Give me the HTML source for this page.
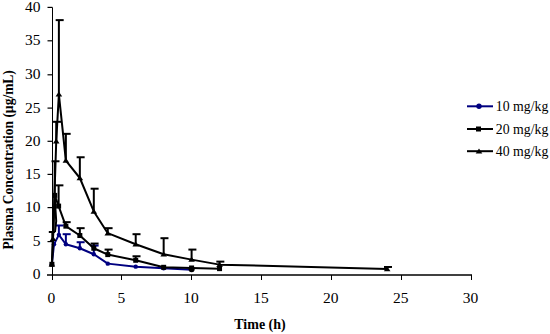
<!DOCTYPE html>
<html><head><meta charset="utf-8"><style>
html,body{margin:0;padding:0;background:#fff;}
svg{display:block;}
</style></head><body>
<svg width="550" height="334" viewBox="0 0 550 334">
<rect width="550" height="334" fill="#fff"/>
<g stroke="#000" stroke-width="1" fill="none">
<line x1="52.5" y1="7.5" x2="52.5" y2="275"/>
<line x1="47" y1="275" x2="472" y2="275" stroke-width="1.4"/>
<line x1="47.5" y1="241.60" x2="52.5" y2="241.60" stroke-width="1.2"/>
<line x1="47.5" y1="207.60" x2="52.5" y2="207.60" stroke-width="1.2"/>
<line x1="47.5" y1="174.40" x2="52.5" y2="174.40" stroke-width="1.2"/>
<line x1="47.5" y1="141.30" x2="52.5" y2="141.30" stroke-width="1.2"/>
<line x1="47.5" y1="108.10" x2="52.5" y2="108.10" stroke-width="1.2"/>
<line x1="47.5" y1="74.80" x2="52.5" y2="74.80" stroke-width="1.2"/>
<line x1="47.5" y1="40.80" x2="52.5" y2="40.80" stroke-width="1.2"/>
<line x1="47.5" y1="7.40" x2="52.5" y2="7.40" stroke-width="1.2"/>
<line x1="52.50" y1="275" x2="52.50" y2="280"/>
<line x1="121.50" y1="275" x2="121.50" y2="280"/>
<line x1="191.50" y1="275" x2="191.50" y2="280"/>
<line x1="261.50" y1="275" x2="261.50" y2="280"/>
<line x1="331.50" y1="275" x2="331.50" y2="280"/>
<line x1="401.50" y1="275" x2="401.50" y2="280"/>
<line x1="471.50" y1="275" x2="471.50" y2="280"/>
</g>
<g font-family="Liberation Serif" font-size="15.5" fill="#000">
<text x="40.6" y="279.40" text-anchor="end">0</text>
<text x="40.6" y="246.00" text-anchor="end">5</text>
<text x="40.6" y="212.00" text-anchor="end">10</text>
<text x="40.6" y="178.80" text-anchor="end">15</text>
<text x="40.6" y="145.70" text-anchor="end">20</text>
<text x="40.6" y="112.50" text-anchor="end">25</text>
<text x="40.6" y="79.20" text-anchor="end">30</text>
<text x="40.6" y="45.20" text-anchor="end">35</text>
<text x="40.6" y="11.80" text-anchor="end">40</text>
<text x="51.40" y="302.6" text-anchor="middle">0</text>
<text x="121.25" y="302.6" text-anchor="middle">5</text>
<text x="191.10" y="302.6" text-anchor="middle">10</text>
<text x="260.95" y="302.6" text-anchor="middle">15</text>
<text x="330.80" y="302.6" text-anchor="middle">20</text>
<text x="400.65" y="302.6" text-anchor="middle">25</text>
<text x="470.50" y="302.6" text-anchor="middle">30</text>
</g>
<text x="260" y="329" text-anchor="middle" font-family="Liberation Serif" font-weight="bold" font-size="14">Time (h)</text>
<text transform="translate(12.6,159.8) rotate(-90) scale(0.93,1)" text-anchor="middle" font-family="Liberation Serif" font-weight="bold" font-size="14.5">Plasma Concentration (µg/mL)</text>
<line x1="58.88" y1="234.86" x2="58.88" y2="225.49" stroke="#000080" stroke-width="2"/>
<line x1="55.68" y1="225.49" x2="63.68" y2="225.49" stroke="#000080" stroke-width="2"/>
<line x1="65.87" y1="244.23" x2="65.87" y2="234.19" stroke="#000080" stroke-width="2"/>
<line x1="62.67" y1="234.19" x2="70.67" y2="234.19" stroke="#000080" stroke-width="2"/>
<line x1="79.84" y1="248.24" x2="79.84" y2="242.22" stroke="#000080" stroke-width="2"/>
<line x1="76.64" y1="242.22" x2="84.64" y2="242.22" stroke="#000080" stroke-width="2"/>
<line x1="93.81" y1="254.26" x2="93.81" y2="245.56" stroke="#000080" stroke-width="2"/>
<line x1="90.61" y1="245.56" x2="98.61" y2="245.56" stroke="#000080" stroke-width="2"/>
<path d="M51.90,264.30 L54.00,244.23 L58.88,234.86 L65.87,244.23 L79.84,248.24 L93.81,254.26 L107.78,263.63 L135.72,266.64 L163.66,268.31 L191.60,269.65" stroke="#000080" stroke-width="2" fill="none" stroke-linejoin="round"/>
<circle cx="51.90" cy="264.30" r="2.2" fill="#000080"/>
<circle cx="54.00" cy="244.23" r="2.2" fill="#000080"/>
<circle cx="58.88" cy="234.86" r="2.2" fill="#000080"/>
<circle cx="65.87" cy="244.23" r="2.2" fill="#000080"/>
<circle cx="79.84" cy="248.24" r="2.2" fill="#000080"/>
<circle cx="93.81" cy="254.26" r="2.2" fill="#000080"/>
<circle cx="107.78" cy="263.63" r="2.2" fill="#000080"/>
<circle cx="135.72" cy="266.64" r="2.2" fill="#000080"/>
<circle cx="163.66" cy="268.31" r="2.2" fill="#000080"/>
<circle cx="191.60" cy="269.65" r="2.2" fill="#000080"/>
<line x1="54.69" y1="195.39" x2="54.69" y2="161.27" stroke="#000" stroke-width="2"/>
<line x1="51.49" y1="161.27" x2="59.49" y2="161.27" stroke="#000" stroke-width="2"/>
<line x1="58.61" y1="206.09" x2="58.61" y2="185.35" stroke="#000" stroke-width="2"/>
<line x1="55.41" y1="185.35" x2="63.41" y2="185.35" stroke="#000" stroke-width="2"/>
<line x1="65.87" y1="226.16" x2="65.87" y2="222.15" stroke="#000" stroke-width="2"/>
<line x1="62.67" y1="222.15" x2="70.67" y2="222.15" stroke="#000" stroke-width="2"/>
<line x1="79.84" y1="235.53" x2="79.84" y2="228.17" stroke="#000" stroke-width="2"/>
<line x1="76.64" y1="228.17" x2="84.64" y2="228.17" stroke="#000" stroke-width="2"/>
<line x1="93.81" y1="248.24" x2="93.81" y2="243.56" stroke="#000" stroke-width="2"/>
<line x1="90.61" y1="243.56" x2="98.61" y2="243.56" stroke="#000" stroke-width="2"/>
<line x1="107.78" y1="254.60" x2="107.78" y2="249.58" stroke="#000" stroke-width="2"/>
<line x1="104.58" y1="249.58" x2="112.58" y2="249.58" stroke="#000" stroke-width="2"/>
<line x1="135.72" y1="260.28" x2="135.72" y2="256.27" stroke="#000" stroke-width="2"/>
<line x1="132.52" y1="256.27" x2="140.52" y2="256.27" stroke="#000" stroke-width="2"/>
<path d="M51.90,264.30 L54.69,195.39 L58.61,206.09 L65.87,226.16 L79.84,235.53 L93.81,248.24 L107.78,254.60 L135.72,260.28 L163.66,267.31 L191.60,267.98 L219.54,268.64" stroke="#000" stroke-width="2" fill="none" stroke-linejoin="round"/>
<rect x="49.40" y="261.80" width="5" height="5" fill="#000"/>
<rect x="52.19" y="192.89" width="5" height="5" fill="#000"/>
<rect x="56.11" y="203.59" width="5" height="5" fill="#000"/>
<rect x="63.37" y="223.66" width="5" height="5" fill="#000"/>
<rect x="77.34" y="233.03" width="5" height="5" fill="#000"/>
<rect x="91.31" y="245.74" width="5" height="5" fill="#000"/>
<rect x="105.28" y="252.10" width="5" height="5" fill="#000"/>
<rect x="133.22" y="257.78" width="5" height="5" fill="#000"/>
<rect x="161.16" y="264.81" width="5" height="5" fill="#000"/>
<rect x="189.10" y="265.48" width="5" height="5" fill="#000"/>
<rect x="217.04" y="266.14" width="5" height="5" fill="#000"/>
<line x1="56.23" y1="141.20" x2="56.23" y2="121.80" stroke="#000" stroke-width="2"/>
<line x1="53.03" y1="121.80" x2="61.03" y2="121.80" stroke="#000" stroke-width="2"/>
<line x1="58.88" y1="94.37" x2="58.88" y2="20.11" stroke="#000" stroke-width="2"/>
<line x1="55.68" y1="20.11" x2="63.68" y2="20.11" stroke="#000" stroke-width="2"/>
<line x1="65.87" y1="160.60" x2="65.87" y2="133.84" stroke="#000" stroke-width="2"/>
<line x1="62.67" y1="133.84" x2="70.67" y2="133.84" stroke="#000" stroke-width="2"/>
<line x1="79.84" y1="178.00" x2="79.84" y2="157.26" stroke="#000" stroke-width="2"/>
<line x1="76.64" y1="157.26" x2="84.64" y2="157.26" stroke="#000" stroke-width="2"/>
<line x1="93.81" y1="211.44" x2="93.81" y2="188.70" stroke="#000" stroke-width="2"/>
<line x1="90.61" y1="188.70" x2="98.61" y2="188.70" stroke="#000" stroke-width="2"/>
<line x1="107.78" y1="233.19" x2="107.78" y2="228.17" stroke="#000" stroke-width="2"/>
<line x1="104.58" y1="228.17" x2="112.58" y2="228.17" stroke="#000" stroke-width="2"/>
<line x1="135.72" y1="244.23" x2="135.72" y2="234.19" stroke="#000" stroke-width="2"/>
<line x1="132.52" y1="234.19" x2="140.52" y2="234.19" stroke="#000" stroke-width="2"/>
<line x1="163.66" y1="254.26" x2="163.66" y2="238.20" stroke="#000" stroke-width="2"/>
<line x1="160.46" y1="238.20" x2="168.46" y2="238.20" stroke="#000" stroke-width="2"/>
<line x1="191.60" y1="259.61" x2="191.60" y2="249.58" stroke="#000" stroke-width="2"/>
<line x1="188.40" y1="249.58" x2="196.40" y2="249.58" stroke="#000" stroke-width="2"/>
<line x1="219.54" y1="264.63" x2="219.54" y2="261.62" stroke="#000" stroke-width="2"/>
<line x1="216.34" y1="261.62" x2="224.34" y2="261.62" stroke="#000" stroke-width="2"/>
<line x1="387.18" y1="268.98" x2="387.18" y2="266.97" stroke="#000" stroke-width="2"/>
<line x1="383.98" y1="266.97" x2="391.98" y2="266.97" stroke="#000" stroke-width="2"/>
<path d="M51.90,264.30 L53.02,238.87 L56.23,141.20 L58.88,94.37 L65.87,160.60 L79.84,178.00 L93.81,211.44 L107.78,233.19 L135.72,244.23 L163.66,254.26 L191.60,259.61 L219.54,264.63 L387.18,268.98" stroke="#000" stroke-width="2" fill="none" stroke-linejoin="round"/>
<path d="M51.90,261.55 L55.20,266.55 L48.60,266.55 Z" fill="#000"/>
<path d="M53.02,236.12 L56.32,241.12 L49.72,241.12 Z" fill="#000"/>
<path d="M56.23,138.45 L59.53,143.45 L52.93,143.45 Z" fill="#000"/>
<path d="M58.88,91.62 L62.18,96.62 L55.59,96.62 Z" fill="#000"/>
<path d="M65.87,157.85 L69.17,162.85 L62.57,162.85 Z" fill="#000"/>
<path d="M79.84,175.25 L83.14,180.25 L76.54,180.25 Z" fill="#000"/>
<path d="M93.81,208.69 L97.11,213.69 L90.51,213.69 Z" fill="#000"/>
<path d="M107.78,230.44 L111.08,235.44 L104.48,235.44 Z" fill="#000"/>
<path d="M135.72,241.48 L139.02,246.48 L132.42,246.48 Z" fill="#000"/>
<path d="M163.66,251.51 L166.96,256.51 L160.36,256.51 Z" fill="#000"/>
<path d="M191.60,256.86 L194.90,261.86 L188.30,261.86 Z" fill="#000"/>
<path d="M219.54,261.88 L222.84,266.88 L216.24,266.88 Z" fill="#000"/>
<path d="M387.18,266.23 L390.48,271.23 L383.88,271.23 Z" fill="#000"/>
<line x1="467" y1="106.3" x2="493" y2="106.3" stroke="#000080" stroke-width="2"/>
<text x="495.8" y="111.10" font-family="Liberation Serif" font-size="13.8" fill="#000">10 mg/kg</text>
<line x1="467" y1="129" x2="493" y2="129" stroke="#000" stroke-width="2"/>
<text x="495.8" y="133.80" font-family="Liberation Serif" font-size="13.8" fill="#000">20 mg/kg</text>
<line x1="467" y1="151.2" x2="493" y2="151.2" stroke="#000" stroke-width="2"/>
<text x="495.8" y="156.00" font-family="Liberation Serif" font-size="13.8" fill="#000">40 mg/kg</text>
<circle cx="191.60" cy="269.31" r="3" fill="#000"/>
<line x1="48.8" y1="232" x2="55.2" y2="232" stroke="#000" stroke-width="2"/>
<line x1="52.3" y1="232" x2="52.3" y2="239" stroke="#000" stroke-width="2"/>
<path d="M54.6,196 L56.2,221 L55,232" stroke="#000" stroke-width="2" fill="none"/>
<circle cx="479.00" cy="106.30" r="2.7" fill="#000080"/>
<rect x="476.00" y="126.50" width="5" height="5" fill="#000"/>
<path d="M479.00,148.45 L482.30,153.45 L475.70,153.45 Z" fill="#000"/>
</svg>
</body></html>
